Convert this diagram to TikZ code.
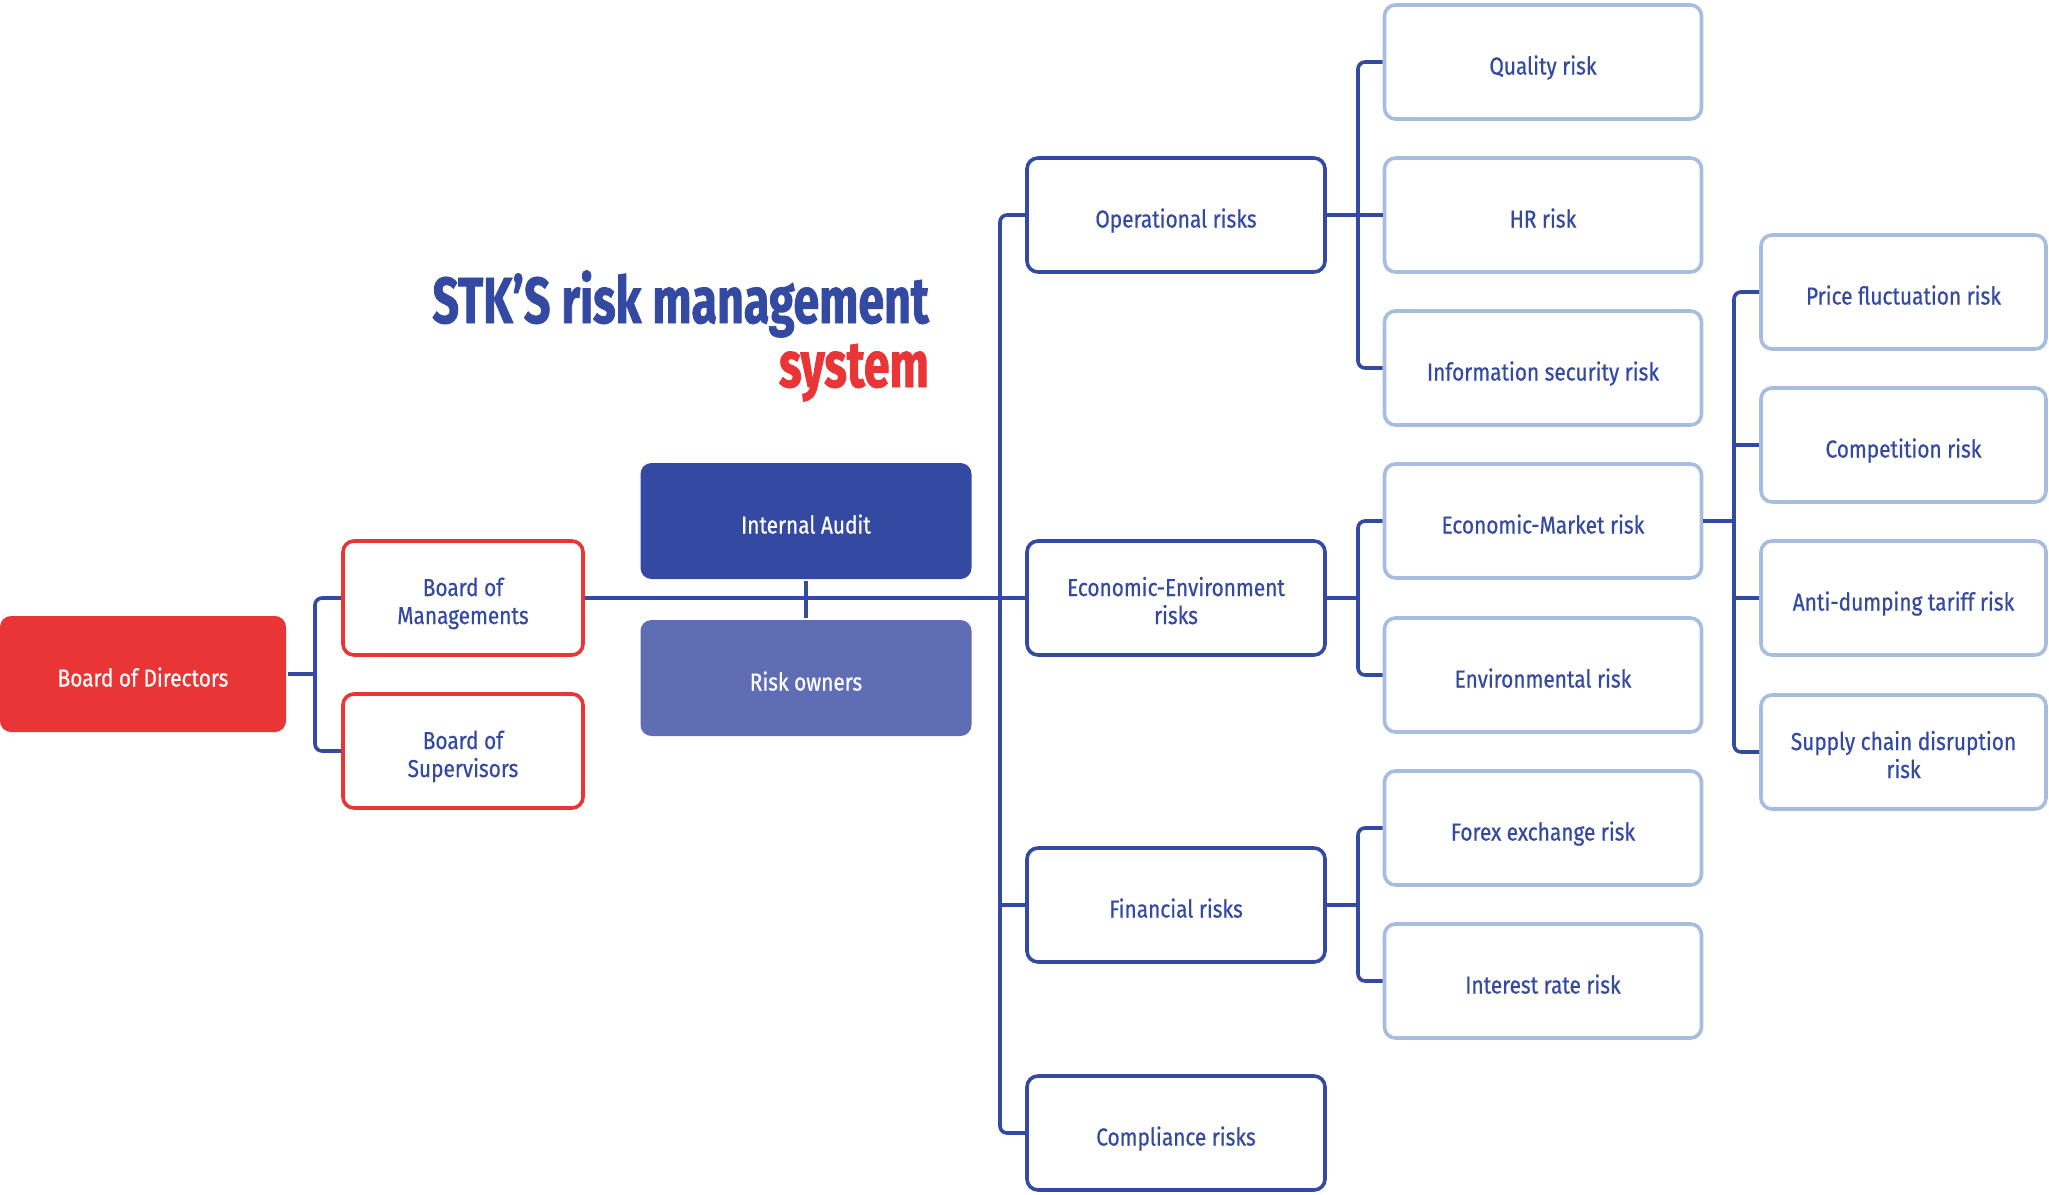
\documentclass[tikz,border=0pt]{standalone}
\usepackage{fontspec}
\setmainfont[FakeStretch=0.85,FakeBold=0.6]{Fira Sans}
\newfontfamily\titlefont[FakeStretch=0.715,FakeBold=1.2]{Fira Sans}
\definecolor{rred}{HTML}{E93536}
\definecolor{dblue}{HTML}{344AA2}
\definecolor{mblue}{HTML}{5F6DB4}
\definecolor{lblue}{HTML}{A6BDE0}
\newcommand\twolines[2]{\raisebox{-6.4pt}[\height][\depth]{\begin{tabular}{@{}c@{}}#1\\#2\end{tabular}}}
\tikzset{
  basebox/.style={rounded corners=11pt, line width=3.6pt, minimum height=114pt, align=center, inner sep=2pt,
    font=\fontsize{24.5}{28}\selectfont, text=dblue, text height=25pt, text depth=0pt},
  multi/.style={text height=, text depth=},
  filledred/.style={basebox, fill=rred, draw=none, text=white, minimum height=116pt},
  redbox/.style={basebox, draw=rred, fill=white},
  auditbox/.style={basebox, fill=dblue, draw=none, text=white, minimum height=116pt},
  ownerbox/.style={basebox, fill=mblue, draw=none, text=white, minimum height=116pt},
  lvltwo/.style={basebox, draw=dblue, fill=white},
  lvlthree/.style={basebox, draw=lblue, fill=white},
  conn/.style={draw=dblue, line width=3.6pt},
  bracket/.style={conn, rounded corners=7pt},
}
\begin{document}
\begin{tikzpicture}[x=1pt,y=-1pt]
\useasboundingbox (0,0) rectangle (2049,1194);
% title
\node[anchor=base east, inner sep=0, text=dblue, font=\titlefont\bfseries\fontsize{65}{70}\selectfont] (title1) at (929,323) {STK’S risk management};
\node[anchor=base east, inner sep=0, text=rred, font=\titlefont\bfseries\fontsize{65}{70}\selectfont] (title2) at (929,387) {system};
% level 1
\node[filledred, minimum width=286pt] (bod) at (143,674) {Board of Directors};
\node[redbox, multi, minimum width=240pt] (bom) at (463,598) {\twolines{Board of}{Managements}};
\node[redbox, multi, minimum width=240pt] (bos) at (463,751) {\twolines{Board of}{Supervisors}};
\node[auditbox, minimum width=331pt] (ia) at (806,521) {Internal Audit};
\node[ownerbox, minimum width=331pt] (ro) at (806,678) {Risk owners};
% level 2
\node[lvltwo, minimum width=298pt] (op) at (1176,215) {Operational risks};
\node[lvltwo, multi, minimum width=298pt] (ee) at (1176,598) {\twolines{Economic-Environment}{risks}};
\node[lvltwo, minimum width=298pt] (fin) at (1176,905) {Financial risks};
\node[lvltwo, minimum width=298pt] (comp) at (1176,1133) {Compliance risks};
% level 3
\node[lvlthree, minimum width=317pt] (qual) at (1543,62) {Quality risk};
\node[lvlthree, minimum width=317pt] (hr) at (1543,215) {HR risk};
\node[lvlthree, minimum width=317pt] (info) at (1543,368) {Information security risk};
\node[lvlthree, minimum width=317pt] (em) at (1543,521) {Economic-Market risk};
\node[lvlthree, minimum width=317pt] (env) at (1543,675) {Environmental risk};
\node[lvlthree, minimum width=317pt] (forex) at (1543,828) {Forex exchange risk};
\node[lvlthree, minimum width=317pt] (intr) at (1543,981) {Interest rate risk};
% level 4
\node[lvlthree, minimum width=285pt] (price) at (1903.5,292) {Price fluctuation risk};
\node[lvlthree, minimum width=285pt] (compet) at (1903.5,445) {Competition risk};
\node[lvlthree, minimum width=285pt] (anti) at (1903.5,598) {Anti-dumping tariff risk};
\node[lvlthree, multi, minimum width=285pt] (supply) at (1903.5,752) {\twolines{Supply chain disruption}{risk}};
% junction columns
\coordinate (ja) at (315,0);
\coordinate (jb) at (1000,0);
\coordinate (jc) at (1358,0);
\coordinate (jd) at (1734,0);
% connectors
\draw[conn] (bod.east) -- (bod.east -| ja);
\draw[bracket] (bom.west) -- (bom.west -| ja) -- (bos.west -| ja) -- (bos.west);
\draw[conn] (bom.east) -- (ee.west);
\draw[conn] (ia.south) -- (ro.north);
\draw[bracket] (op.west) -- (op.west -| jb) -- (comp.west -| jb) -- (comp.west);
\draw[conn] (fin.west -| jb) -- (fin.west);
\draw[conn] (op.east) -- (hr.west);
\draw[bracket] (qual.west) -- (qual.west -| jc) -- (info.west -| jc) -- (info.west);
\draw[conn] (ee.east) -- (ee.east -| jc);
\draw[bracket] (em.west) -- (em.west -| jc) -- (env.west -| jc) -- (env.west);
\draw[conn] (fin.east) -- (fin.east -| jc);
\draw[bracket] (forex.west) -- (forex.west -| jc) -- (intr.west -| jc) -- (intr.west);
\draw[conn] (em.east) -- (em.east -| jd);
\draw[bracket] (price.west) -- (price.west -| jd) -- (supply.west -| jd) -- (supply.west);
\draw[conn] (compet.west -| jd) -- (compet.west);
\draw[conn] (anti.west -| jd) -- (anti.west);
\end{tikzpicture}
\end{document}
